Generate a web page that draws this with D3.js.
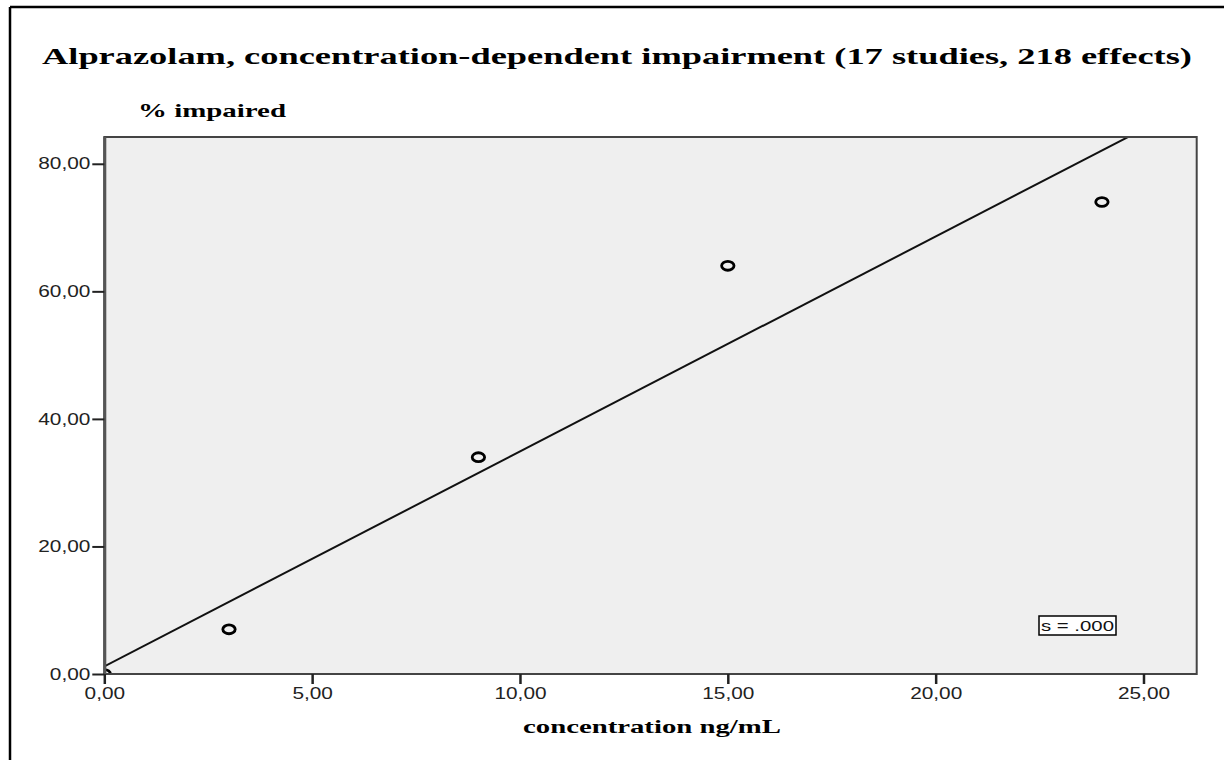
<!DOCTYPE html>
<html>
<head>
<meta charset="utf-8">
<script src="https://cdn.jsdelivr.net/npm/d3@7"></script>
<style>
  html, body { margin: 0; padding: 0; background: #fff; }
  svg { display: block; }
</style>
</head>
<body>
<svg id="chart" width="1224" height="760"></svg>
<script>
// Observations: concentration (ng/mL) vs. percentage of impaired effects
const concentration = [0, 3, 9, 15, 24];
const impaired = [0, 7, 34, 64, 74];

// Linear fit line (intercept, slope)
const fitIntercept = 1.2;
const fitSlope = 3.37;

const xTicks = [0, 5, 10, 15, 20, 25];
const yTicks = [0, 20, 40, 60, 80];

const titleText = "Alprazolam, concentration-dependent impairment (17 studies, 218 effects)";
const yTitle = "% impaired";
const xTitle = "concentration ng/mL";
const statText = "s = .000";

const svg = d3.select("#chart");
const W = 1224, H = 760;
const plot = { left: 104.3, right: 1196.7, top: 137, bottom: 674 };

// Text in this chart is rendered wide; stretch glyphs horizontally.
const stretch = 1.3;
function widen(sel, factor) {
  sel.each(function () {
    const w = this.getComputedTextLength();
    d3.select(this).attr("textLength", w * factor).attr("lengthAdjust", "spacingAndGlyphs");
  });
}

const x = d3.scaleLinear().domain([0, 26.28]).range([plot.left, plot.right]);
const y = d3.scaleLinear().domain([0, 84.2]).range([plot.bottom, plot.top]);

// Outer frame (top and left edges)
svg.append("line").attr("x1", 10).attr("x2", W).attr("y1", 7).attr("y2", 7)
  .attr("stroke", "#000").attr("stroke-width", 2.5);
svg.append("line").attr("x1", 10).attr("x2", 10).attr("y1", 7).attr("y2", H)
  .attr("stroke", "#000").attr("stroke-width", 2.5);

// Title
svg.append("text")
  .attr("x", 42).attr("y", 64)
  .attr("font-family", "'Liberation Serif', 'Times New Roman', serif")
  .attr("font-weight", "bold").attr("font-size", 24)
  .attr("fill", "#000")
  .attr("textLength", 1150).attr("lengthAdjust", "spacingAndGlyphs")
  .text(titleText);

// Y axis title
svg.append("text")
  .attr("x", 138).attr("y", 117)
  .attr("font-family", "'Liberation Serif', 'Times New Roman', serif")
  .attr("font-weight", "bold").attr("font-size", 19)
  .attr("fill", "#000")
  .attr("textLength", 148).attr("lengthAdjust", "spacingAndGlyphs")
  .text(yTitle);

// X axis title
svg.append("text")
  .attr("x", 523).attr("y", 733)
  .attr("font-family", "'Liberation Serif', 'Times New Roman', serif")
  .attr("font-weight", "bold").attr("font-size", 19)
  .attr("fill", "#000")
  .attr("textLength", 258).attr("lengthAdjust", "spacingAndGlyphs")
  .text(xTitle);

// Plot background
svg.append("rect")
  .attr("x", plot.left).attr("y", plot.top)
  .attr("width", plot.right - plot.left).attr("height", plot.bottom - plot.top)
  .attr("fill", "#efefef");

svg.append("clipPath").attr("id", "plot-clip")
  .append("rect")
  .attr("x", plot.left).attr("y", plot.top)
  .attr("width", plot.right - plot.left).attr("height", plot.bottom - plot.top);

const inner = svg.append("g").attr("clip-path", "url(#plot-clip)");

// Fit line
const xMax = x.domain()[1];
inner.append("line")
  .attr("x1", x(0)).attr("y1", y(fitIntercept))
  .attr("x2", x(xMax)).attr("y2", y(fitIntercept + fitSlope * xMax))
  .attr("stroke", "#111").attr("stroke-width", 2);

// Data points
inner.selectAll("ellipse.pt")
  .data(concentration.map((c, i) => ({ c, v: impaired[i] })))
  .join("ellipse")
  .attr("class", "pt")
  .attr("cx", d => x(d.c)).attr("cy", d => y(d.v))
  .attr("rx", 6.2).attr("ry", 4.4)
  .attr("fill", "none").attr("stroke", "#000").attr("stroke-width", 2.8);

// Stat box
const boxG = svg.append("g");
boxG.append("rect")
  .attr("x", 1039).attr("y", 616).attr("width", 77).attr("height", 19)
  .attr("fill", "#fff").attr("stroke", "#000").attr("stroke-width", 1.5);
boxG.append("text")
  .attr("x", 1041).attr("y", 631)
  .attr("font-family", "'Liberation Sans', Arial, sans-serif")
  .attr("font-size", 15).attr("fill", "#111")
  .attr("textLength", 73).attr("lengthAdjust", "spacingAndGlyphs")
  .text(statText);

// Plot border
svg.append("rect")
  .attr("x", plot.left).attr("y", plot.top)
  .attr("width", plot.right - plot.left).attr("height", plot.bottom - plot.top)
  .attr("fill", "none").attr("stroke", "#444").attr("stroke-width", 2);
// Heavier left edge of the plot
svg.append("line")
  .attr("x1", plot.left + 0.5).attr("x2", plot.left + 0.5)
  .attr("y1", plot.top).attr("y2", plot.bottom)
  .attr("stroke", "#555").attr("stroke-width", 3);

const fmt = d => d.toFixed(2).replace(".", ",");

// Y axis
const yAxis = svg.append("g")
  .attr("transform", `translate(${plot.left},0)`)
  .call(d3.axisLeft(y).tickValues(yTicks).tickFormat(fmt).tickSize(12).tickPadding(2));
yAxis.select(".domain").remove();
yAxis.selectAll(".tick line").attr("stroke", "#222").attr("stroke-width", 2);
yAxis.selectAll(".tick text")
  .attr("font-family", "'Liberation Sans', Arial, sans-serif")
  .attr("font-size", 16).attr("fill", "#222")
  .call(widen, stretch);

// X axis
const xAxis = svg.append("g")
  .attr("transform", `translate(0,${plot.bottom})`)
  .call(d3.axisBottom(x).tickValues(xTicks).tickFormat(fmt).tickSize(10).tickPadding(4));
xAxis.select(".domain").remove();
xAxis.selectAll(".tick line").attr("stroke", "#222").attr("stroke-width", 2.5);
xAxis.selectAll(".tick text")
  .attr("font-family", "'Liberation Sans', Arial, sans-serif")
  .attr("font-size", 16).attr("fill", "#222")
  .call(widen, stretch);
</script>
</body>
</html>
